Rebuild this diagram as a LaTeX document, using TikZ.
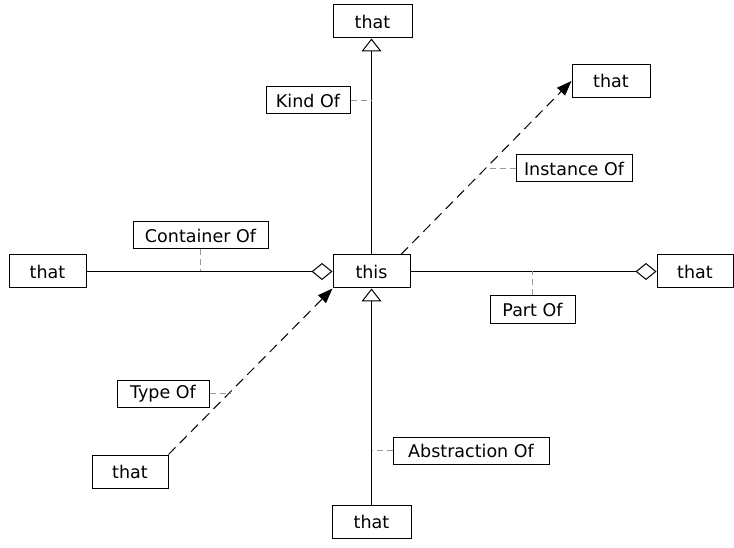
\documentclass[tikz,border=0pt]{standalone}
\usepackage{fontspec}
\setmainfont{DejaVu Sans}
\usetikzlibrary{arrows.meta,positioning}

\begin{document}
\begin{tikzpicture}[x=1pt,y=-1pt,
    thing/.style={rectangle,draw,line width=1pt,minimum width=77pt,
		minimum height=33pt,inner sep=0pt,font=\fontsize{17.5}{20}\selectfont},
    relation/.style={rectangle,draw,line width=1pt,minimum height=27pt,
		inner sep=0pt,font=\fontsize{17.5}{20}\selectfont},
    link/.style={line width=1pt},
    tick/.style={draw=black!40,line width=1pt,dash pattern=on 6pt off 4pt},
    isa/.style={link,-{Triangle[open,length=13pt,width=20pt]}},
    has/.style={link,-{Diamond[open,length=21pt,width=17pt]}},
    ref/.style={link,dash pattern=on 10pt off 6pt,
		-{Triangle[length=15pt,width=11pt]}}
]
    \useasboundingbox (0,0) rectangle (734,548);

    % the boxes
    \node (this) [thing] at (371.5,271.5) {this};
    \node (top) [thing,minimum width=79pt] at (372.5,21.5) {that};
    \node (bottom) [thing,minimum width=79pt] at (371.5,521.5) {that};
    \node (left) [thing] at (47.5,271.5) {that};
    \node (right) [thing,minimum width=76pt] at (695,271.5) {that};
    \node (upper) [thing,minimum width=78pt] at (611,81) {that};
    \node (lower) [thing,minimum width=76pt] at (130,471.5) {that};

    % the connectors
    \draw[isa] (this.north) -- (this.north |- top.south);
    \draw[isa] (bottom.north) -- (this.south);
    \draw[has] (left) -- (this);
    \draw[has] (this) -- (right);
    \draw[ref] (this.30) -- coordinate[pos=0.5] (inst) (upper.west);
    \draw[ref] (lower.north east) -- coordinate[pos=0.38] (type) (this.south west);

    % the labels
    \node (kind) [relation,minimum width=84pt] at (308,100.5) {Kind Of};
    \node (instance) [relation,minimum width=116pt] at (574,168.5) {Instance Of};
    \node (container) [relation,minimum width=135pt] at (200.5,235.5) {Container Of};
    \node (part) [relation,minimum width=85pt] at (532.5,309.5) {Part Of};
    \node (typeof) [relation,minimum width=92pt] at (163,393.5) {Type Of};
    \node (abstraction) [relation,minimum width=156pt] at (471,450.5) {Abstraction Of};

    \draw[tick] (kind.east) -- (kind.east -| this.north);
    \draw[tick] (instance.west) -- (instance.west -| inst);
    \draw[tick] (container.south) -- (container.south |- this.west);
    \draw[tick] (part.north) -- (part.north |- this.east);
    \draw[tick] (typeof.east) -- (typeof.east -| type);
    \draw[tick] (abstraction.west) -- (abstraction.west -| this.south);

\end{tikzpicture}
\end{document}
